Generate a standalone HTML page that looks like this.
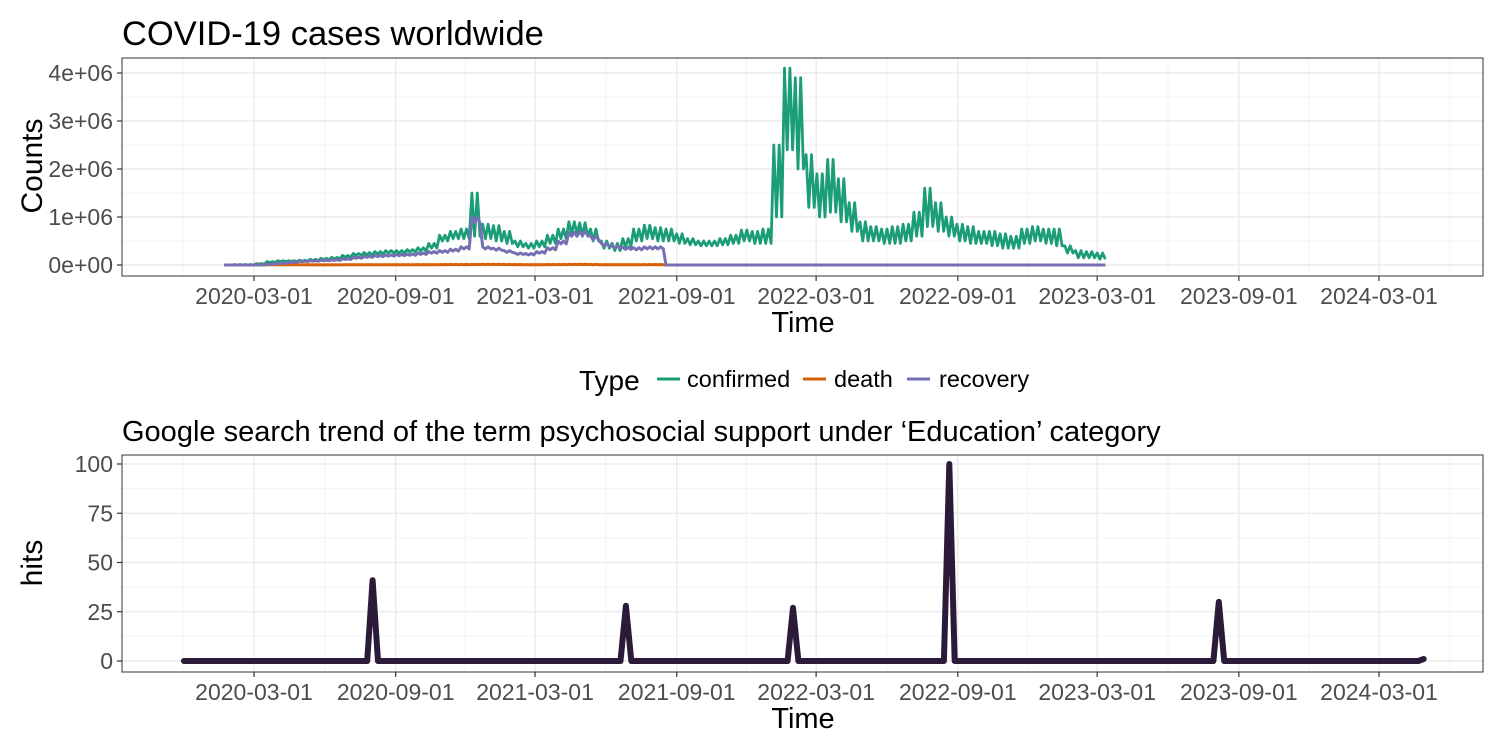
<!DOCTYPE html>
<html><head><meta charset="utf-8"><style>
body{margin:0;background:#fff;}
svg{display:block;font-family:"Liberation Sans",sans-serif;}
</style></head><body>
<svg id="chart" width="1501" height="751" xmlns="http://www.w3.org/2000/svg">
<rect width="1501" height="751" fill="#fff"/>
<text x="122" y="45" font-size="34.5" fill="#000">COVID-19 cases worldwide</text>
<text x="122" y="441" font-size="29" fill="#000">Google search trend of the term psychosocial support under ‘Education’ category</text>
<text transform="translate(42,166) rotate(-90)" text-anchor="middle" font-size="30" fill="#000">Counts</text>
<text transform="translate(42,563) rotate(-90)" text-anchor="middle" font-size="30" fill="#000">hits</text>
<text x="803" y="332" text-anchor="middle" font-size="29" fill="#000">Time</text>
<text x="803" y="728" text-anchor="middle" font-size="29" fill="#000">Time</text>
<g>
<text x="579" y="390" font-size="28" fill="#000">Type</text>
<line x1="657" y1="379" x2="680" y2="379" stroke="#1b9e77" stroke-width="3"/>
<text x="687" y="387" font-size="23.5" fill="#000">confirmed</text>
<line x1="803" y1="379" x2="826" y2="379" stroke="#d95f02" stroke-width="3"/>
<text x="834" y="387" font-size="23.5" fill="#000">death</text>
<line x1="907" y1="379" x2="930" y2="379" stroke="#7570b3" stroke-width="3"/>
<text x="939" y="387" font-size="23.5" fill="#000">recovery</text>
</g>
</svg>
<script>
// ---- data ----
const xTickLabels = ["2020-03-01","2020-09-01","2021-03-01","2021-09-01","2022-03-01","2022-09-01","2023-03-01","2023-09-01","2024-03-01"];
const topYTicks = [0,1e6,2e6,3e6,4e6];
const topYTickLabels = ["0e+00","1e+06","2e+06","3e+06","4e+06"];
const bottomYTicks = [0,25,50,75,100];
const covidStart = "2020-01-22"; // biweekly samples
const confirmedHigh = [0,0.01,0.01,0.03,0.07,0.09,0.09,0.1,0.12,0.14,0.16,0.2,0.24,0.26,0.28,0.3,0.3,0.32,0.36,0.45,0.62,0.7,0.75,1.5,0.85,0.82,0.7,0.5,0.45,0.5,0.62,0.75,0.9,0.88,0.75,0.5,0.45,0.55,0.75,0.83,0.78,0.75,0.65,0.55,0.5,0.5,0.55,0.62,0.73,0.7,0.75,2.5,4.1,3.9,2.3,1.9,2.2,1.8,1.3,0.9,0.8,0.75,0.8,0.85,1.1,1.6,1.3,1.0,0.85,0.8,0.7,0.7,0.65,0.6,0.75,0.8,0.75,0.75,0.4,0.3,0.28,0.25];
const confirmedLow = [0,0,0,0.02,0.05,0.07,0.07,0.08,0.09,0.11,0.13,0.16,0.2,0.21,0.23,0.25,0.25,0.27,0.29,0.35,0.5,0.55,0.55,0.6,0.55,0.5,0.45,0.38,0.35,0.38,0.45,0.55,0.65,0.6,0.5,0.35,0.3,0.38,0.5,0.55,0.5,0.5,0.45,0.42,0.4,0.4,0.42,0.45,0.5,0.45,0.45,1.0,2.4,2.0,1.2,1.0,1.1,0.9,0.7,0.5,0.5,0.45,0.45,0.5,0.6,0.8,0.7,0.6,0.5,0.45,0.45,0.4,0.35,0.35,0.45,0.5,0.45,0.4,0.25,0.15,0.15,0.12];
const recovery = [0,0,0,0,0.02,0.04,0.06,0.08,0.09,0.1,0.11,0.13,0.16,0.18,0.2,0.21,0.22,0.23,0.25,0.28,0.3,0.33,0.38,1.0,0.38,0.35,0.3,0.25,0.24,0.28,0.36,0.5,0.68,0.7,0.6,0.45,0.4,0.37,0.36,0.38,0.38,0,0,0,0,0,0,0,0,0,0,0,0,0,0,0,0,0,0,0,0,0,0,0,0,0,0,0,0,0,0,0,0,0,0,0,0,0,0,0,0,0];
const death = [0,0,0,0.002,0.006,0.008,0.007,0.006,0.005,0.005,0.005,0.006,0.006,0.006,0.006,0.006,0.006,0.007,0.008,0.009,0.011,0.012,0.012,0.013,0.014,0.014,0.012,0.01,0.009,0.009,0.01,0.012,0.014,0.014,0.012,0.009,0.008,0.008,0.009,0.01,0.01,0,0,0,0,0,0,0,0,0,0,0,0,0,0,0,0,0,0,0,0,0,0,0,0,0,0,0,0,0,0,0,0,0,0,0,0,0,0,0,0,0];
const trendStart = "2019-12-01"; // weekly samples
const hits = [
0,0,0,0,0,0,0,0,0,0, 0,0,0,0,0,0,0,0,0,0, 0,0,0,0,0,0,0,0,0,0, 0,0,0,0,0,
41,
0,0,0,0,0,0,0,0,0,0, 0,0,0,0,0,0,0,0,0,0, 0,0,0,0,0,0,0,0,0,0, 0,0,0,0,0,0,0,0,0,0, 0,0,0,0,0,0,
28,
0,0,0,0,0,0,0,0,0,0, 0,0,0,0,0,0,0,0,0,0, 0,0,0,0,0,0,0,0,0,0,
27,
0,0,0,0,0,0,0,0,0,0, 0,0,0,0,0,0,0,0,0,0, 0,0,0,0,0,0,0,0,
100,
0,0,0,0,0,0,0,0,0,0, 0,0,0,0,0,0,0,0,0,0, 0,0,0,0,0,0,0,0,0,0, 0,0,0,0,0,0,0,0,0,0, 0,0,0,0,0,0,0,0,0,
30,
0,0,0,0,0,0,0,0,0,0, 0,0,0,0,0,0,0,0,0,0, 0,0,0,0,0,0,0,0,0,0, 0,0,0,0,0,0,0,
1];

// ---- scales ----
const NS="http://www.w3.org/2000/svg";
const svg=document.getElementById('chart');
const day=s=>Date.UTC(+s.slice(0,4),+s.slice(5,7)-1,+s.slice(8,10))/864e5;
const d0=day("2020-03-01"), d1=day("2024-03-01");
const xS=d=>254+(d-d0)*(1379-254)/(d1-d0);
const P1={l:122,r:1483,t:58,b:276}, P2={l:122,r:1483,t:455,b:672};
const yTop=v=>265-v*48/1e6;
const yBot=v=>661-v*(661-464)/100;
function el(tag,attrs,parent){const e=document.createElementNS(NS,tag);for(const k in attrs)e.setAttribute(k,attrs[k]);(parent||svg).appendChild(e);return e;}

function panel(P,yf,yticks,ylabels,name){
  const g=el('g',{});
  
  
  for(let i=0;i<yticks.length-1;i++){const y=yf((yticks[i]+yticks[i+1])/2);el('line',{x1:P.l,x2:P.r,y1:y,y2:y,stroke:'#f3f3f3','stroke-width':1},g);}
  const tds=xTickLabels.map(day);
  const mids=[];for(let i=0;i<tds.length-1;i++)mids.push((tds[i]+tds[i+1])/2);
  mids.push(tds[0]-(tds[1]-tds[0])/2);mids.push(tds[tds.length-1]+(tds[1]-tds[0])/2);
  mids.forEach(m=>{const x=xS(m);if(x>P.l&&x<P.r)el('line',{x1:x,x2:x,y1:P.t,y2:P.b,stroke:'#f3f3f3','stroke-width':1},g);});
  yticks.forEach((v,i)=>{const y=yf(v);
    el('line',{x1:P.l,x2:P.r,y1:y,y2:y,stroke:'#e8e8e8','stroke-width':1.2},g);
    el('line',{x1:P.l-5,x2:P.l,y1:y,y2:y,stroke:'#333','stroke-width':1.2},g);
    const t=el('text',{x:P.l-9,y:y+8,'text-anchor':'end','font-size':23,fill:'#4d4d4d'},g);t.textContent=ylabels[i];
    
    
  });
  xTickLabels.forEach(s=>{const x=xS(day(s));
    el('line',{x1:x,x2:x,y1:P.t,y2:P.b,stroke:'#e8e8e8','stroke-width':1.2},g);
    el('line',{x1:x,x2:x,y1:P.b,y2:P.b+5,stroke:'#333','stroke-width':1.2},g);
    const t=el('text',{x:x,y:P.b+28,'text-anchor':'middle','font-size':23,fill:'#4d4d4d'},g);t.textContent=s;
    
    
  });
  return g;
}
panel(P1,yTop,topYTicks,topYTickLabels,'top');
panel(P2,yBot,bottomYTicks,bottomYTicks.map(String),'bottom');

function zig(hi,lo){
  const s=day(covidStart);const pts=[];
  hi.forEach((h,i)=>{const l=lo[i];const b=s+14*i;
    for(let k=0;k<4;k++)pts.push([b+3.5*k,k%2?l:h]);});
  return pts.map((p,i)=>(i?'L':'M')+xS(p[0]).toFixed(1)+','+yTop(p[1]*1e6).toFixed(1)).join('');
}
const cp=el('path',{d:zig(confirmedHigh,confirmedLow),fill:'none',stroke:'#1b9e77','stroke-width':2.8,'stroke-linejoin':'round'});


const dp=el('path',{d:zig(death,death.map(v=>v*0.6)),fill:'none',stroke:'#d95f02','stroke-width':3});


const rp=el('path',{d:zig(recovery,recovery.map(v=>v*0.88)),fill:'none',stroke:'#7570b3','stroke-width':3,'stroke-linejoin':'round'});



const ts=day(trendStart);
const hp=el('path',{d:hits.map((v,i)=>(i?'L':'M')+xS(ts+7*i).toFixed(1)+','+yBot(v).toFixed(1)).join(''),fill:'none',stroke:'#2b1b38','stroke-width':6,'stroke-linejoin':'round','stroke-linecap':'round'});



[P1,P2].forEach(P=>{const r=el('rect',{x:P.l,y:P.t,width:P.r-P.l,height:P.b-P.t,fill:'none',stroke:'#333','stroke-width':1});
  
  });
</script>
</body></html>
